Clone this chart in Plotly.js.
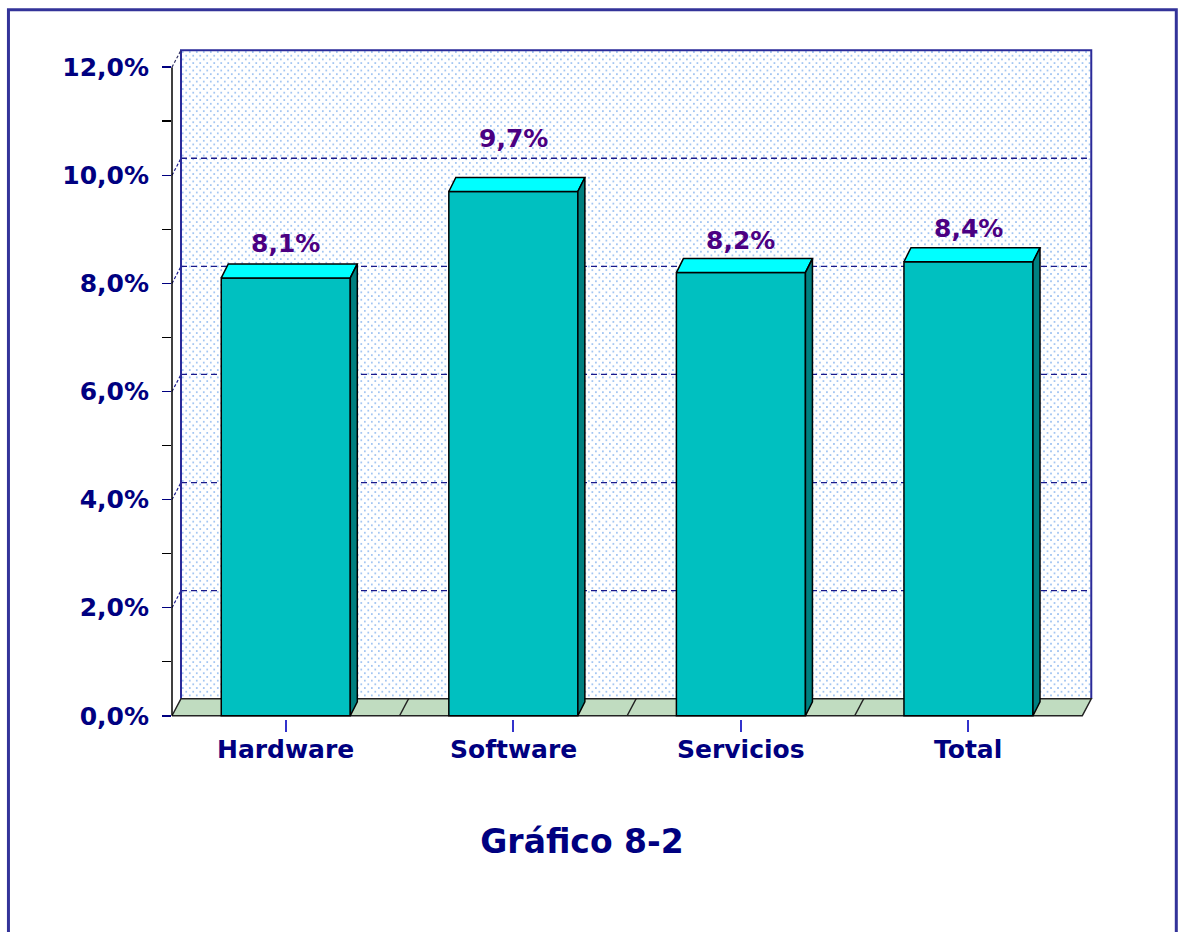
<!DOCTYPE html>
<html><head><meta charset="utf-8">
<script src="https://cdn.plot.ly/plotly-3.0.1.min.js"></script>
<style>html,body{margin:0;padding:0;background:#fff}#chart{width:1180px;height:932px}</style>
</head><body><div id="chart"></div>
<script>
// ---- data ----
const categories = ['Hardware', 'Software', 'Servicios', 'Total'];
const values = [8.1, 9.7, 8.2, 8.4];
const valueLabels = ['8,1%', '9,7%', '8,2%', '8,4%'];
const yTickVals = [0, 2, 4, 6, 8, 10, 12];
const yTickText = ['0,0%', '2,0%', '4,0%', '6,0%', '8,0%', '10,0%', '12,0%'];
const yMinorVals = [1, 3, 5, 7, 9, 11];
const gridVals = [2, 4, 6, 8, 10];
const chartTitle = 'Gráfico 8-2';

// ---- geometry (pseudo-3D) ----
const W = 1180, H = 932;
const pxX = 227.5, pxY = 54.08;          // px per category / per 1%
const x0px = 172, y0px = 716;            // front origin in px
const wdx = 9 / pxX, wdy = 17 / pxY;     // wall depth offset (data units)
const bdx = 7 / pxX, bdy = 14 / pxY;     // bar depth offset
const barW = 129 / pxX;
const xs = categories.map((c, i) => i);
const yMax = 12;
const xL = -0.5, xR = 3.5 + wdx + 0.012;
const yB = -0.06, yT = yMax + wdy + 0.04;
const mL = x0px, mR = W - (x0px + (xR - xL) * pxX);
const mT = y0px - yT * pxY, mB = H - (y0px - yB * pxY);
const plotW = W - mL - mR, plotH = H - mT - mB;
const pX = px => (px - mL) / plotW;
const pY = py => (H - mB - py) / plotH;

const font = (size, color) => ({family: 'DejaVu Sans, Verdana, sans-serif', size: size, color: color, weight: 'bold'});
const navy = '#000080';

// ---- traces ----
const bars = {
  type: 'bar', x: xs, y: values, width: barW,
  marker: {color: '#00c0c0', line: {color: '#000000', width: 1.5}},
  hoverinfo: 'skip', showlegend: false
};
const topX = [], topY = [], sideX = [], sideY = [];
values.forEach((v, i) => {
  const a = xs[i] - barW / 2, b = xs[i] + barW / 2;
  topX.push(a, b, b + bdx, a + bdx, a, null);
  topY.push(v, v, v + bdy, v + bdy, v, null);
  sideX.push(b, b + bdx, b + bdx, b, b, null);
  sideY.push(0, bdy, v + bdy, v, 0, null);
});
const tops = {type: 'scatter', mode: 'lines', x: topX, y: topY, fill: 'toself',
  fillcolor: '#00ffff', line: {color: '#000000', width: 1.5}, hoverinfo: 'skip', showlegend: false};
const sides = {type: 'scatter', mode: 'lines', x: sideX, y: sideY, fill: 'toself',
  fillcolor: '#008080', line: {color: '#000000', width: 1.5}, hoverinfo: 'skip', showlegend: false};

// ---- decorations ----
const shapes = [];
// back-wall gridlines
gridVals.forEach(v => {
  shapes.push({type: 'line', layer: 'between', xref: 'x', yref: 'y', x0: xL + wdx, x1: 3.5 + wdx, y0: v + wdy, y1: v + wdy,
    line: {color: '#1a1a8c', width: 1.3, dash: '6px,4px'}});
  shapes.push({type: 'line', layer: 'between', xref: 'paper', yref: 'y', x0: 0, x1: wdx / (xR - xL), y0: v, y1: v + wdy,
    line: {color: '#1a1a8c', width: 1.2, dash: '3px,2px'}});
});
// wall outline
shapes.push({type: 'path', layer: 'between', xref: 'x', yref: 'y',
  path: `M${xL + wdx},${wdy} L${xL + wdx},${yMax + wdy} L${3.5 + wdx},${yMax + wdy} L${3.5 + wdx},${wdy}`,
  line: {color: '#2a2a99', width: 2}});
// floor
shapes.push({type: 'path', layer: 'between', xref: 'x', yref: 'y',
  path: `M${xL},0 L3.5,0 L${3.5 + wdx},${wdy} L${xL + wdx},${wdy} Z`,
  fillcolor: '#c0dcc0', line: {color: '#222222', width: 1.5}});
[0.5, 1.5, 2.5].forEach(x => {
  shapes.push({type: 'line', layer: 'between', xref: 'x', yref: 'y', x0: x, x1: x + wdx, y0: 0, y1: wdy,
    line: {color: '#222222', width: 1.5}});
});
// y axis line + slant to wall corner
shapes.push({type: 'line', layer: 'above', xref: 'paper', yref: 'y', x0: 0, x1: 0, y0: 0, y1: yMax,
  line: {color: '#000000', width: 1.5}});
shapes.push({type: 'line', layer: 'above', xref: 'paper', yref: 'y', x0: 0, x1: wdx / (xR - xL), y0: yMax, y1: yMax + wdy,
  line: {color: '#333366', width: 1.2, dash: '3px,2px'}});
// outer chart border
shapes.push({type: 'rect', xref: 'paper', yref: 'paper', x0: pX(8.5), x1: pX(1176), y0: pY(950), y1: pY(9.5),
  line: {color: '#333399', width: 3}, fillcolor: 'rgba(0,0,0,0)'});

// wall dot pattern image
const dotSvg = `<svg xmlns="http://www.w3.org/2000/svg" width="910" height="649" shape-rendering="crispEdges"><defs><pattern id="p" width="7" height="7.4" patternUnits="userSpaceOnUse"><rect width="7" height="7.4" fill="#ffffff"/><rect x="0.5" y="0.5" width="2" height="2" fill="#a4c6f2"/><rect x="4" y="4.2" width="2" height="2" fill="#a4c6f2"/></pattern></defs><rect width="910" height="649" fill="url(#p)"/></svg>`;
const images = [{source: 'data:image/svg+xml;charset=utf-8,' + encodeURIComponent(dotSvg),
  xref: 'x', yref: 'y', x: xL + wdx, y: yMax + wdy, sizex: 4, sizey: yMax,
  xanchor: 'left', yanchor: 'top', sizing: 'stretch', layer: 'below'}];

// data labels
const labelShift = [34, 53, 32, 33];
const annotations = values.map((v, i) => ({
  x: xs[i], y: v, xref: 'x', yref: 'y', text: valueLabels[i], showarrow: false,
  yanchor: 'middle', yshift: labelShift[i], font: font(25, '#4B0082')
}));
// category labels
categories.forEach((c, i) => annotations.push({
  x: xs[i], y: pY(750), xref: 'x', yref: 'paper', text: c, showarrow: false,
  yanchor: 'middle', font: font(25, navy)
}));

const layout = {
  width: W, height: H,
  margin: {l: mL, r: mR, t: mT, b: mB, pad: 0},
  paper_bgcolor: '#ffffff', plot_bgcolor: '#ffffff',
  showlegend: false, barmode: 'overlay',
  title: {text: chartTitle, font: font(33, navy), x: 582 / W, xanchor: 'center', xref: 'container',
    y: 1 - 841 / H, yanchor: 'middle', yref: 'container'},
  xaxis: {range: [xL, xR], tickvals: xs, ticktext: categories, showticklabels: false, ticks: 'outside', ticklen: 12,
    tickcolor: '#3333cc', tickwidth: 2, showgrid: false, zeroline: false,
    showline: false, fixedrange: true},
  yaxis: {range: [yB, yT], tickvals: yTickVals, ticktext: yTickText, ticks: 'outside', ticklen: 9,
    tickcolor: navy, tickwidth: 1.5, tickfont: font(25, navy), ticklabelstandoff: 8,
    minor: {tickvals: yMinorVals, ticks: 'outside', ticklen: 9, tickcolor: '#000000', tickwidth: 1.5},
    showgrid: false, zeroline: false, showline: false, fixedrange: true},
  shapes: shapes, images: images, annotations: annotations
};

Plotly.newPlot('chart', [bars, tops, sides], layout, {displayModeBar: false, staticPlot: true});
</script>
</body></html>
